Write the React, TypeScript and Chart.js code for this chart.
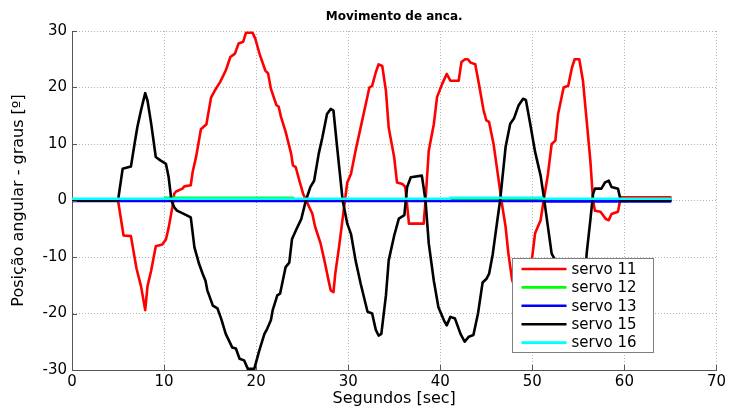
import React, { useEffect, useRef } from 'react';
import { Chart, registerables } from 'chart.js';

Chart.register(...registerables);

const titleText = 'Movimento de anca.';
const xAxisTitle = 'Segundos [sec]';
const yAxisTitle = 'Posição angular - graus [º]';

const xTicks = [0, 10, 20, 30, 40, 50, 60, 70];
const yTicks = [-30, -20, -10, 0, 10, 20, 30];

const seriesNames = ['servo 11', 'servo 12', 'servo 13', 'servo 15', 'servo 16'];
const seriesColors = ['#ff0000', '#00ff00', '#0000ff', '#000000', '#00ffff'];
const drawOrder = [4, 3, 2, 1, 0];

const servo11T = [0, 5.0, 5.6, 6.4, 7.0, 7.5, 7.95, 8.2, 8.6, 9.1, 9.8, 10.2, 10.5, 10.9, 11.1, 11.3, 12.0, 12.2, 12.9, 13.1, 13.5, 14.0, 14.6, 15.1, 15.6, 16.1, 16.7, 17.2, 17.7, 18.1, 18.6, 18.9, 19.6, 19.9, 20.4, 21.0, 21.3, 21.6, 22.2, 22.45, 22.7, 23.2, 23.8, 24.0, 24.3, 24.7, 25.1, 25.5, 25.75, 26.1, 26.4, 27.0, 27.4, 27.9, 28.1, 28.4, 28.6, 29.0, 29.6, 29.9, 30.3, 30.8, 31.35, 31.9, 32.3, 32.6, 33.0, 33.3, 33.7, 34.1, 34.4, 35.0, 35.3, 35.9, 36.2, 36.6, 38.2, 38.4, 38.75, 39.3, 39.65, 40.2, 40.7, 41.1, 42.0, 42.3, 42.7, 43.0, 43.3, 43.8, 44.2, 44.7, 45.0, 45.3, 45.8, 46.3, 46.7, 47.1, 47.4, 47.8, 48.3, 48.9, 49.35, 49.8, 50.3, 50.9, 51.2, 51.7, 52.1, 52.5, 52.8, 53.4, 53.9, 54.3, 54.6, 55.1, 55.5, 55.9, 56.3, 56.6, 56.8, 57.4, 58.0, 58.3, 58.6, 59.3, 59.6, 65.0];
const servo11Y = [0, 0, -6.2, -6.3, -12.0, -15.2, -19.4, -15.2, -12.4, -8.1, -7.8, -6.9, -4.8, -1.2, 1.2, 1.6, 2.1, 2.5, 2.7, 5.0, 7.9, 12.6, 13.5, 18.2, 19.7, 21.0, 23.0, 25.4, 26.0, 27.8, 28.1, 29.7, 29.7, 28.7, 25.8, 23.0, 22.5, 19.8, 16.9, 16.6, 14.8, 12.2, 8.3, 6.2, 5.9, 3.5, 1.2, -0.2, -1.1, -2.3, -4.6, -7.6, -10.5, -14.4, -15.9, -16.2, -12.9, -8.3, -0.6, 3.2, 4.7, 8.8, 12.9, 17.0, 20.0, 20.3, 22.7, 24.1, 23.8, 19.4, 12.9, 7.6, 3.2, 2.9, 2.4, -4.1, -4.1, 0, 8.8, 13.5, 18.3, 20.6, 22.4, 21.2, 21.2, 24.5, 25.0, 25.0, 24.4, 24.1, 20.6, 16.0, 14.2, 13.9, 9.9, 4.1, -0.6, -4.7, -9.4, -14.0, -16.5, -18.0, -17.7, -12.5, -5.8, -3.5, -0.3, 4.7, 10.0, 10.6, 15.3, 20.0, 20.3, 23.5, 25.0, 25.0, 21.2, 14.2, 7.1, 0, -1.8, -2.0, -3.3, -3.5, -2.4, -2.0, 0.55, 0.55];

const servo12T = [0, 10.0, 10.1, 24.0, 24.1, 65.0];
const servo12Y = [0.2, 0.2, 0.5, 0.5, 0.2, 0.2];

const servo13T = [0, 51.0, 51.2, 65.0];
const servo13Y = [-0.1, -0.1, -0.15, -0.15];

const servo15T = [0, 5.0, 5.5, 6.4, 6.8, 7.1, 7.5, 7.95, 8.2, 8.6, 9.1, 9.6, 10.2, 10.5, 10.8, 11.1, 11.4, 12.2, 12.9, 13.3, 13.8, 14.2, 14.5, 14.7, 15.3, 15.8, 16.2, 16.7, 17.4, 17.8, 18.2, 18.7, 19.1, 19.8, 20.3, 20.9, 21.2, 21.6, 21.8, 22.3, 22.6, 23.2, 23.6, 23.9, 24.4, 24.9, 25.4, 25.9, 26.3, 26.8, 27.2, 27.7, 28.1, 28.4, 28.8, 29.4, 29.9, 30.3, 30.8, 31.35, 32.1, 32.6, 33.0, 33.3, 33.6, 34.1, 34.4, 35.0, 35.5, 36.1, 36.4, 36.8, 38.0, 38.4, 38.75, 39.3, 39.8, 40.4, 40.7, 41.1, 41.6, 42.2, 42.65, 43.1, 43.6, 44.1, 44.6, 45.0, 45.3, 45.7, 46.2, 46.5, 47.1, 47.6, 48.0, 48.5, 49.0, 49.3, 49.8, 50.3, 50.9, 51.2, 51.7, 52.1, 52.5, 52.8, 53.4, 53.9, 54.3, 54.6, 55.1, 55.5, 55.9, 56.3, 56.6, 56.8, 57.5, 57.9, 58.3, 58.6, 59.3, 59.6, 65.0];
const servo15Y = [0, 0, 5.6, 6.0, 10.1, 13.0, 16.0, 19.0, 17.7, 13.6, 7.7, 7.1, 6.5, 4.1, 0, -1.2, -1.8, -2.4, -3.0, -8.3, -11.2, -13.0, -14.2, -15.9, -18.6, -19.1, -20.9, -23.6, -26.0, -26.2, -28.0, -28.3, -29.8, -29.8, -26.8, -23.6, -22.7, -21.2, -19.4, -16.8, -16.5, -11.8, -11.0, -6.8, -5.0, -3.3, 0, 2.4, 3.5, 8.3, 11.2, 15.3, 16.2, 15.9, 9.4, 0, -4.1, -5.9, -10.6, -14.7, -19.7, -20.0, -22.9, -23.9, -23.6, -16.8, -10.6, -6.2, -3.2, -2.6, 2.4, 4.1, 4.4, 0, -7.6, -14.2, -18.9, -21.2, -22.1, -20.6, -20.9, -23.6, -25.0, -24.1, -23.8, -20.0, -14.5, -13.9, -13.0, -9.5, -3.5, 0, 9.5, 13.6, 14.5, 16.8, 18.0, 17.8, 13.3, 8.6, 4.4, 1.2, -4.7, -9.4, -10.6, -15.3, -20.0, -20.3, -23.5, -25.0, -25.0, -20.0, -9.4, -3.5, 1.2, 2.1, 2.1, 3.2, 3.5, 2.4, 2.1, 0, 0];

const servo16T = [0, 41.0, 41.2, 51.0, 51.2, 65.0];
const servo16Y = [0.3, 0.3, 0.5, 0.5, 0.3, 0.3];

const seriesT = [servo11T, servo12T, servo13T, servo15T, servo16T];
const seriesY = [servo11Y, servo12Y, servo13Y, servo15Y, servo16Y];

const FONT = 'DejaVu Sans';
const LINE_W = 2.6;

const overlayPlugin = {
  id: 'overlay',
  afterDraw(chart: any) {
    const { ctx, chartArea } = chart;
    const xs = chart.scales.x;
    const ys = chart.scales.y;
    ctx.save();
    // title
    ctx.font = `bold 12px "${FONT}"`;
    ctx.fillStyle = '#000';
    ctx.textAlign = 'center';
    ctx.textBaseline = 'middle';
    ctx.fillText(titleText, (chartArea.left + chartArea.right) / 2, 16.5);
    // inward tick marks
    ctx.strokeStyle = '#555';
    ctx.lineWidth = 1;
    ctx.beginPath();
    xTicks.forEach((v) => {
      const px = Math.round(xs.getPixelForValue(v)) + 0.5;
      ctx.moveTo(px, chartArea.bottom);
      ctx.lineTo(px, chartArea.bottom - 5);
    });
    yTicks.forEach((v) => {
      const py = Math.round(ys.getPixelForValue(v)) + 0.5;
      ctx.moveTo(chartArea.left, py);
      ctx.lineTo(chartArea.left + 5, py);
    });
    ctx.stroke();
    // legend
    const lx = Math.round(chartArea.right - 204) + 0.5;
    const ly = Math.round(chartArea.bottom - 112) + 0.5;
    const lw = 141;
    const lh = 94;
    ctx.fillStyle = '#fff';
    ctx.fillRect(lx, ly, lw, lh);
    ctx.strokeStyle = '#808080';
    ctx.lineWidth = 1;
    ctx.strokeRect(lx, ly, lw, lh);
    ctx.font = `15px "${FONT}"`;
    ctx.textAlign = 'left';
    ctx.textBaseline = 'middle';
    seriesNames.forEach((name, i) => {
      const y = ly + 10.5 + i * 18.4;
      ctx.strokeStyle = seriesColors[i];
      ctx.lineWidth = LINE_W;
      ctx.beginPath();
      ctx.moveTo(lx + 9, y);
      ctx.lineTo(lx + 54, y);
      ctx.stroke();
      ctx.fillStyle = '#000';
      ctx.fillText(name, lx + 59, y + 1);
    });
    ctx.restore();
  },
};

export default function App() {
  const canvasRef = useRef<HTMLCanvasElement | null>(null);

  useEffect(() => {
    const canvas = canvasRef.current;
    if (!canvas) return;
    const datasets = seriesNames.map((name, i) => ({
      label: name,
      data: seriesT[i].map((t, j) => ({ x: t, y: seriesY[i][j] })),
      borderColor: seriesColors[i],
      backgroundColor: seriesColors[i],
      borderWidth: LINE_W,
      pointRadius: 0,
      tension: 0,
      fill: false,
      borderJoinStyle: 'round' as const,
      borderCapStyle: 'round' as const,
      order: drawOrder[i],
    }));
    const chart = new Chart(canvas, {
      type: 'line',
      data: { datasets },
      options: {
        animation: false,
        responsive: false,
        events: [],
        layout: { padding: { top: 31, right: 11, left: 0, bottom: 0 } },
        plugins: {
          legend: { display: false },
          title: { display: false },
          tooltip: { enabled: false },
        },
        scales: {
          x: {
            type: 'linear',
            min: 0,
            max: 70,
            afterBuildTicks: (s: any) => {
              s.ticks = xTicks.map((v) => ({ value: v }));
            },
            afterFit: (s: any) => {
              s.height = 39;
            },
            ticks: {
              font: { family: FONT, size: 15 },
              color: '#000',
              padding: 3,
              maxRotation: 0,
              autoSkip: false,
            },
            grid: { color: '#b4b4b4', lineWidth: 1, drawTicks: false },
            border: { display: true, color: '#555', width: 1, dash: [1, 2] },
            title: {
              display: true,
              text: xAxisTitle,
              font: { family: FONT, size: 16 },
              color: '#000',
              padding: { top: 0, bottom: 1 },
            },
          },
          y: {
            type: 'linear',
            min: -30,
            max: 30,
            afterBuildTicks: (s: any) => {
              s.ticks = yTicks.map((v) => ({ value: v }));
            },
            afterFit: (s: any) => {
              s.width = 72;
            },
            ticks: {
              font: { family: FONT, size: 15 },
              color: '#000',
              padding: 5,
              autoSkip: false,
            },
            grid: { color: '#b4b4b4', lineWidth: 1, drawTicks: false },
            border: { display: true, color: '#555', width: 1, dash: [1, 2] },
            title: {
              display: true,
              text: yAxisTitle,
              font: { family: FONT, size: 16 },
              color: '#000',
              padding: { top: 9, bottom: 0 },
            },
          },
        },
      },
      plugins: [overlayPlugin],
    });
    return () => chart.destroy();
  }, []);

  return (
    <div style={{ position: 'absolute', left: 0, top: 0, width: 729, height: 409, background: '#fff' }}>
      <canvas ref={canvasRef} width={729} height={409} style={{ width: 729, height: 409 }} />
    </div>
  );
}
